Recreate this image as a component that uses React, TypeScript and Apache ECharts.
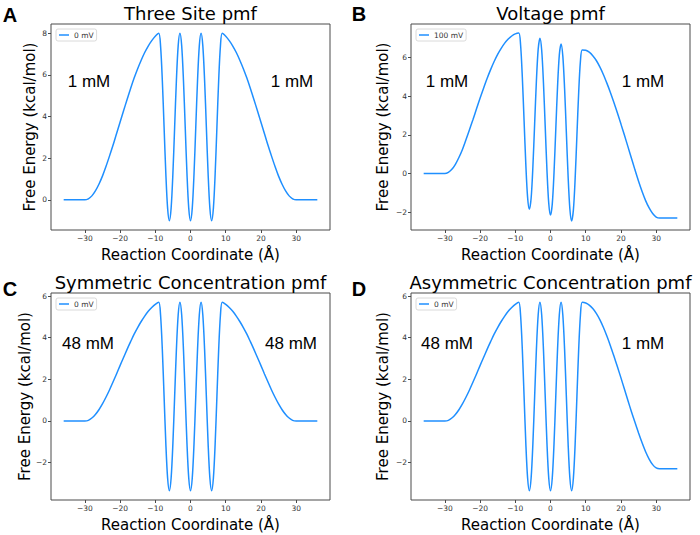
import React, { useEffect, useRef } from "react";
import * as echarts from "echarts";

// Reaction coordinate samples (Å)
const xs = [
  -36, -35, -34, -33, -32, -31, -30, -29, -28, -27, -26, -25, -24, -23, -22, -21, -20, -19, -18, -17, -16, -15, -14, -13, -12, -11, -10,
  -9, -8.5, -8, -7.5, -7, -6.5, -6, -5.5, -5, -4.5, -4, -3.5, -3, -2.5, -2, -1.5, -1, -0.5, 0, 0.5, 1, 1.5, 2, 2.5, 3, 3.5, 4, 4.5, 5, 5.5, 6, 6.5, 7, 7.5, 8, 8.5, 9,
  10, 11, 12, 13, 14, 15, 16, 17, 18, 19, 20, 21, 22, 23, 24, 25, 26, 27, 28, 29, 30, 31, 32, 33, 34, 35, 36,
];

// Panel A: Three Site pmf, 0 mV
const threeSite0mV = [
  0, 0, 0, 0, 0, 0, 0, 0.05, 0.19, 0.43, 0.75, 1.14, 1.6, 2.1, 2.62, 3.18, 3.73, 4.28, 4.82, 5.35, 5.85, 6.3, 6.71, 7.08, 7.39, 7.65, 7.86,
  8, 7.4, 5.75, 3.5, 1.25, -0.4, -1, -0.4, 1.25, 3.5, 5.75, 7.4,
  8, 7.4, 5.75, 3.5, 1.25, -0.4, -1, -0.4, 1.25, 3.5, 5.75, 7.4,
  8, 7.4, 5.75, 3.5, 1.25, -0.4, -1, -0.4, 1.25, 3.5, 5.75, 7.4, 8,
  7.86, 7.65, 7.39, 7.08, 6.71, 6.3, 5.85, 5.35, 4.82, 4.28, 3.73, 3.18, 2.62, 2.1, 1.6, 1.14, 0.75, 0.43, 0.19, 0.05, 0, 0, 0, 0, 0, 0, 0,
];

// Panel B: Voltage pmf, 100 mV
const voltage100mV = [
  0, 0, 0, 0, 0, 0, 0, 0.06, 0.22, 0.48, 0.83, 1.25, 1.75, 2.27, 2.8, 3.35, 3.9, 4.42, 4.92, 5.38, 5.8, 6.17, 6.48, 6.75, 6.96, 7.12, 7.23,
  7.27, 6.68, 5.0, 2.73, 0.45, -1.23, -1.85, -1.28, 0.35, 2.58, 4.8, 6.43,
  7.0, 6.38, 4.7, 2.43, 0.15, -1.53, -2.15, -1.58, 0.05, 2.28, 4.5, 6.13,
  6.7, 6.08, 4.4, 2.13, -0.15, -1.83, -2.45, -1.88, -0.25, 1.98, 4.2, 5.83, 6.4,
  6.38, 6.28, 6.1, 5.85, 5.52, 5.13, 4.68, 4.2, 3.68, 3.13, 2.56, 1.98, 1.38, 0.78, 0.18, -0.4, -0.93, -1.4, -1.78, -2.07, -2.25, -2.3, -2.3, -2.3, -2.3, -2.3, -2.3,
];

// Panel C: Symmetric Concentration pmf, 0 mV
const symConc0mV = [
  0, 0, 0, 0, 0, 0, 0, 0.03, 0.14, 0.31, 0.54, 0.82, 1.14, 1.49, 1.87, 2.26, 2.66, 3.05, 3.44, 3.81, 4.17, 4.49, 4.78, 5.04, 5.27, 5.45, 5.6,
  5.7, 5.09, 3.44, 1.18, -1.09, -2.74, -3.35, -2.74, -1.09, 1.18, 3.44, 5.09,
  5.7, 5.09, 3.44, 1.18, -1.09, -2.74, -3.35, -2.74, -1.09, 1.18, 3.44, 5.09,
  5.7, 5.09, 3.44, 1.18, -1.09, -2.74, -3.35, -2.74, -1.09, 1.18, 3.44, 5.09, 5.7,
  5.6, 5.45, 5.27, 5.04, 4.78, 4.49, 4.17, 3.81, 3.44, 3.05, 2.66, 2.26, 1.87, 1.49, 1.14, 0.82, 0.54, 0.31, 0.14, 0.03, 0, 0, 0, 0, 0, 0, 0,
];

// Panel D: Asymmetric Concentration pmf, 0 mV
const asymConc0mV = [
  0, 0, 0, 0, 0, 0, 0, 0.03, 0.14, 0.31, 0.54, 0.82, 1.14, 1.49, 1.87, 2.26, 2.66, 3.05, 3.44, 3.81, 4.17, 4.49, 4.78, 5.04, 5.27, 5.45, 5.6,
  5.7, 5.09, 3.44, 1.18, -1.09, -2.74, -3.35, -2.74, -1.09, 1.18, 3.44, 5.09,
  5.7, 5.09, 3.44, 1.18, -1.09, -2.74, -3.35, -2.74, -1.09, 1.18, 3.44, 5.09,
  5.7, 5.09, 3.44, 1.18, -1.09, -2.74, -3.35, -2.74, -1.09, 1.18, 3.44, 5.09, 5.7,
  5.67, 5.57, 5.4, 5.17, 4.87, 4.5, 4.08, 3.62, 3.12, 2.6, 2.07, 1.52, 0.97, 0.43, -0.08, -0.58, -1.05, -1.48, -1.83, -2.1, -2.26, -2.3, -2.3, -2.3, -2.3, -2.3, -2.3,
];

const xTicks = [-30, -20, -10, 0, 10, 20, 30];
const yTicksA = [0, 2, 4, 6, 8];
const yTicksB = [-2, 0, 2, 4, 6];
const yTicksC = [-2, 0, 2, 4, 6];
const yTicksD = [-2, 0, 2, 4, 6];

const titles = ["Three Site pmf", "Voltage pmf", "Symmetric Concentration pmf", "Asymmetric Concentration pmf"];
const panelLetters = ["A", "B", "C", "D"];
const legendNames = ["0 mV", "100 mV", "0 mV", "0 mV"];
const leftConc = ["1 mM", "1 mM", "48 mM", "48 mM"];
const rightConc = ["1 mM", "1 mM", "48 mM", "1 mM"];
const xAxisName = "Reaction Coordinate (Å)";
const yAxisName = "Free Energy (kcal/mol)";

const seriesValues = [threeSite0mV, voltage100mV, symConc0mV, asymConc0mV];
const yTicks = [yTicksA, yTicksB, yTicksC, yTicksD];

// layout
const grids = [
  { left: 51, top: 24, width: 279, height: 206 },
  { left: 411, top: 24, width: 279, height: 206 },
  { left: 51, top: 293, width: 279, height: 207 },
  { left: 411, top: 293, width: 279, height: 207 },
];
const yRanges = [
  [-1.45, 8.45],
  [-2.92, 7.74],
  [-3.8, 6.15],
  [-3.8, 6.15],
];
const letterPos = [
  [10, 15],
  [359, 14],
  [10, 289],
  [359, 289],
];
const yNameX = [30, 383, 25, 383];
const concPos = [
  [[89, 81], [292, 81]],
  [[447, 81], [643, 81]],
  [[88, 343], [291, 343]],
  [[447, 343], [643, 343]],
];

const LINE = "#1f8fff";
const FRAME = "#4a4a4a";
const FONT = "DejaVu Sans";

const fmt = (v: number) => (v < 0 ? "\u2212" + Math.abs(v) : String(v));

export default function App() {
  const ref = useRef<HTMLDivElement>(null);
  useEffect(() => {
    const chart = echarts.init(ref.current!, null, { renderer: "svg" });
    const graphic: any[] = [];
    grids.forEach((g, i) => {
      graphic.push({
        type: "text",
        x: g.left + g.width / 2,
        y: g.top - 11,
        style: { text: titles[i], fontSize: 18, fontFamily: FONT, fill: "#000", textAlign: "center", textVerticalAlign: "middle" },
      });
      graphic.push({
        type: "text",
        x: letterPos[i][0],
        y: letterPos[i][1],
        style: { text: panelLetters[i], fontSize: 20, fontWeight: "bold", fontFamily: "Liberation Sans", fill: "#000", textAlign: "center", textVerticalAlign: "middle" },
      });
      graphic.push({
        type: "text",
        x: g.left + g.width / 2,
        y: g.top + g.height + 25,
        style: { text: xAxisName, fontSize: 15, fontFamily: FONT, fill: "#000", textAlign: "center", textVerticalAlign: "middle" },
      });
      graphic.push({
        type: "text",
        x: yNameX[i],
        y: g.top + g.height / 2,
        rotation: Math.PI / 2,
        style: { text: yAxisName, fontSize: 15, fontFamily: FONT, fill: "#000", textAlign: "center", textVerticalAlign: "middle" },
      });
      graphic.push({
        type: "text",
        x: concPos[i][0][0],
        y: concPos[i][0][1],
        style: { text: leftConc[i], fontSize: 17, fontFamily: "Liberation Sans", fill: "#000", textAlign: "center", textVerticalAlign: "middle" },
      });
      graphic.push({
        type: "text",
        x: concPos[i][1][0],
        y: concPos[i][1][1],
        style: { text: rightConc[i], fontSize: 17, fontFamily: "Liberation Sans", fill: "#000", textAlign: "center", textVerticalAlign: "middle" },
      });
    });

    const option: any = {
      animation: false,
      backgroundColor: "#fff",
      textStyle: { fontFamily: FONT },
      grid: grids.map((g) => ({ ...g, show: true, borderColor: FRAME, borderWidth: 1, containLabel: false })),
      xAxis: grids.map((_, i) => ({
        type: "value",
        gridIndex: i,
        position: "bottom",
        min: -39.6,
        max: 39.6,
        splitLine: { show: false },
        axisLine: { show: false, onZero: false },
        axisTick: { show: true, inside: false, length: 3, lineStyle: { color: FRAME }, customValues: xTicks },
        axisLabel: { fontSize: 7.5, color: "#333", margin: 4, formatter: fmt, customValues: xTicks },
      })),
      yAxis: grids.map((_, i) => ({
        type: "value",
        gridIndex: i,
        position: "left",
        min: yRanges[i][0],
        max: yRanges[i][1],
        splitLine: { show: false },
        axisLine: { show: false, onZero: false },
        axisTick: { show: true, inside: false, length: 3, lineStyle: { color: FRAME }, customValues: yTicks[i] },
        axisLabel: { fontSize: 7.5, color: "#333", margin: 4, formatter: fmt, customValues: yTicks[i] },
      })),
      legend: grids.map((g, i) => ({
        data: [legendNames[i]],
        left: g.left + 5,
        top: g.top + 5,
        orient: "vertical",
        icon: "rect",
        itemWidth: 10,
        itemHeight: 1.5,
        padding: [2, 3, 2, 3],
        borderColor: "#d0d0d0",
        borderWidth: 0.8,
        borderRadius: 2,
        backgroundColor: "#fff",
        textStyle: { fontSize: 7.5, color: "#333", fontFamily: FONT },
        selectedMode: false,
      })),
      series: seriesValues.map((vals, i) => ({
        type: "line",
        name: legendNames[i],
        xAxisIndex: i,
        yAxisIndex: i,
        data: xs.map((x, k) => [x, vals[k]]),
        showSymbol: false,
        smooth: 0.3,
        lineStyle: { color: LINE, width: 1.5 },
        itemStyle: { color: LINE },
      })),
      graphic,
    };
    chart.setOption(option);
    return () => chart.dispose();
  }, []);
  return (
    <div
      ref={ref}
      style={{ position: "fixed", left: 0, top: 0, width: 700, height: 535, background: "#fff" }}
    />
  );
}
